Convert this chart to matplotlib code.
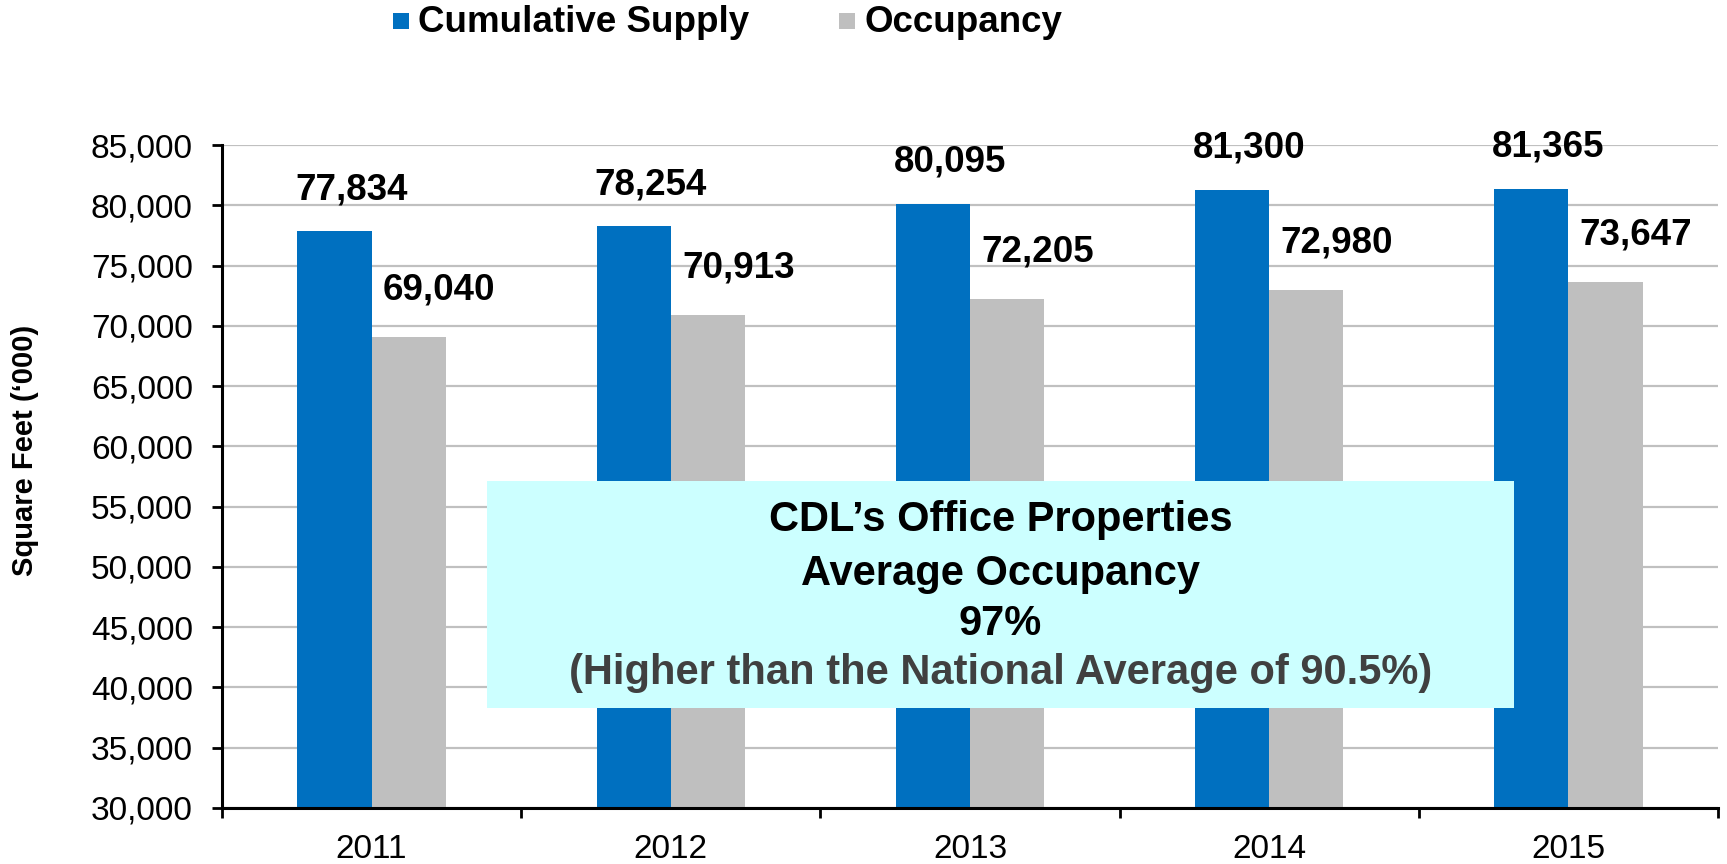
import matplotlib
matplotlib.use("Agg")
import matplotlib.pyplot as plt
from matplotlib.patches import Rectangle
import numpy as np

plt.rcParams['font.family'] = ['Liberation Sans', 'DejaVu Sans']

years = ["2011", "2012", "2013", "2014", "2015"]
supply = [77834, 78254, 80095, 81300, 81365]
occupancy = [69040, 70913, 72205, 72980, 73647]
series_names = ["Cumulative Supply", "Occupancy"]
colors = ["#0070C0", "#BFBFBF"]
box_lines = ["CDL\u2019s Office Properties", "Average Occupancy", "97%",
             "(Higher than the National Average of 90.5%)"]
ylabel = "Square Feet (\u2018000)"

W, H = 1727, 864
fig = plt.figure(figsize=(W / 100, H / 100), dpi=100)
ax = fig.add_axes([222 / W, 1 - 808 / H, (1718 - 222) / W, (808 - 145) / H])

x = np.arange(len(years))
bw = 0.248
ax.bar(x - bw / 2, supply, bw, color=colors[0], zorder=2)
ax.bar(x + bw / 2, occupancy, bw, color=colors[1], zorder=2)

ax.set_ylim(30000, 85000)
ax.set_xlim(-0.5, len(years) - 0.5)
yt = np.arange(30000, 85001, 5000)
ax.set_yticks(yt)
ax.set_yticklabels([f"{v:,}" for v in yt], fontsize=24)
ax.yaxis.grid(True, color="#C0C0C0", linewidth=1.6, zorder=0)
ax.set_axisbelow(True)
ax.tick_params(axis='y', length=7, width=2, direction='out', pad=14)

ax.set_xticks(x)
ax.set_xticklabels(years, fontsize=24)
ax.set_xticks(np.arange(-0.5, len(years), 1), minor=True)
ax.tick_params(axis='x', which='major', length=0, pad=19)
ax.tick_params(axis='x', which='minor', length=7, width=2, direction='out')

for s in ['top', 'right']:
    ax.spines[s].set_visible(False)
for s in ['left', 'bottom']:
    ax.spines[s].set_linewidth(2.2)

ax.set_ylabel(ylabel, fontsize=21, fontweight='bold')
ax.yaxis.set_label_coords(-0.122, 0.54)

# data labels
for xi, v in zip(x, supply):
    ax.annotate(f"{v:,}", (xi - bw / 2, v), xytext=(12, 30), textcoords='offset points',
                ha='center', va='center', fontsize=26.5, fontweight='bold', zorder=5)
for xi, v in zip(x, occupancy):
    ax.annotate(f"{v:,}", (xi + bw / 2, v), xytext=(22, 34), textcoords='offset points',
                ha='center', va='center', fontsize=26.5, fontweight='bold', zorder=5)

# text box
ax.add_patch(Rectangle((0.1771, 0.1508), 0.8636 - 0.1771, 0.4932 - 0.1508,
                       transform=ax.transAxes, facecolor="#CCFFFF", edgecolor='none', zorder=4))
line_y = [0.4344, 0.3529, 0.2775, 0.2036]
line_colors = ["black", "black", "black", "#404040"]
for t, yy, c in zip(box_lines, line_y, line_colors):
    ax.text(0.5204, yy, t, transform=ax.transAxes, ha='center', va='center',
            fontsize=30, fontweight='bold', color=c, zorder=6)

# legend (manual)
sq = 16
leg_x = [393, 839]
for name, col, lx in zip(series_names, colors, leg_x):
    fig.add_artist(Rectangle((lx / W, 1 - 29 / H), sq / W, sq / H,
                             transform=fig.transFigure, facecolor=col, edgecolor='none'))
    fig.text((lx + sq + 9) / W, 1 - 22 / H, name, ha='left', va='center',
             fontsize=26.5, fontweight='bold')

fig.savefig("out.png", dpi=100)
